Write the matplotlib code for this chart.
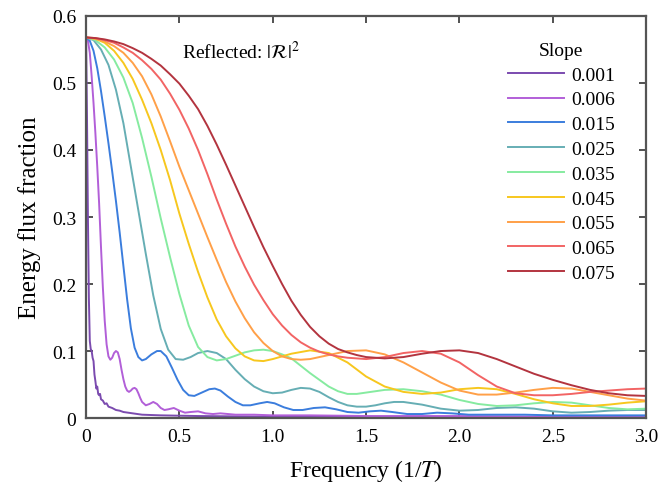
import matplotlib
matplotlib.use("Agg")
import matplotlib.pyplot as plt

plt.rcParams['font.family'] = ['Liberation Serif', 'DejaVu Serif']
plt.rcParams['mathtext.fontset'] = 'stix'

# slope values (legend)
slopes = ['0.001', '0.006', '0.015', '0.025', '0.035', '0.045', '0.055', '0.065', '0.075']
colors = ['#7B4BAF', '#B25FD8', '#3B7DDD', '#66AEB4', '#86EBA0',
          '#F7C71E', '#FFA048', '#F26464', '#B3343F']

# frequency / reflected fraction
f_001 = [0, 0.005, 0.01, 0.015, 0.02, 0.025, 0.03, 0.035, 0.04, 0.045, 0.05, 0.055, 0.06,
         0.065, 0.07, 0.075, 0.08, 0.09, 0.1, 0.11, 0.12, 0.14, 0.16, 0.18, 0.2, 0.25,
         0.3, 0.4, 0.6, 1.0, 2.0, 3.0]
r_001 = [0.568, 0.45, 0.30, 0.18, 0.115, 0.103, 0.100, 0.090, 0.085, 0.065, 0.055, 0.044, 0.047,
         0.036, 0.034, 0.036, 0.028, 0.026, 0.021, 0.022, 0.017, 0.015, 0.012, 0.011, 0.009, 0.007,
         0.005, 0.004, 0.003, 0.002, 0.001, 0.001]

f_006 = [0, 0.01, 0.02, 0.03, 0.04, 0.05, 0.06, 0.07, 0.08, 0.09, 0.1, 0.11, 0.12, 0.13,
         0.14, 0.15, 0.16, 0.17, 0.18, 0.19, 0.2, 0.21, 0.22, 0.23, 0.24, 0.25, 0.26, 0.27,
         0.28, 0.29, 0.30, 0.32, 0.34, 0.36, 0.38, 0.40, 0.42, 0.44, 0.47, 0.50, 0.53, 0.56,
         0.6, 0.64, 0.68, 0.72, 0.76, 0.8, 0.9, 1.0, 1.2, 1.5, 2.0, 2.5, 3.0]
r_006 = [0.568, 0.563, 0.545, 0.51, 0.47, 0.425, 0.375, 0.32, 0.255, 0.195, 0.145, 0.11, 0.092, 0.087,
         0.09, 0.097, 0.1, 0.098, 0.088, 0.072, 0.058, 0.047, 0.041, 0.039, 0.041, 0.044, 0.045, 0.043,
         0.037, 0.03, 0.024, 0.019, 0.021, 0.024, 0.021, 0.015, 0.012, 0.013, 0.015, 0.011, 0.008, 0.009,
         0.01, 0.007, 0.006, 0.007, 0.006, 0.005, 0.005, 0.004, 0.004, 0.003, 0.003, 0.002, 0.002]

f_015 = [0, 0.02, 0.04, 0.06, 0.08, 0.10, 0.12, 0.14, 0.16, 0.18, 0.20, 0.22, 0.24, 0.26,
         0.28, 0.30, 0.32, 0.35, 0.38, 0.40, 0.43, 0.46, 0.49, 0.52, 0.55, 0.58, 0.62, 0.66,
         0.69, 0.72, 0.76, 0.80, 0.84, 0.88, 0.93, 0.97, 1.01, 1.06, 1.11, 1.16, 1.22, 1.28,
         1.34, 1.40, 1.46, 1.52, 1.58, 1.64, 1.72, 1.80, 1.88, 1.96, 2.05, 2.2, 2.35, 2.5,
         2.7, 3.0]
r_015 = [0.568, 0.563, 0.548, 0.522, 0.488, 0.45, 0.41, 0.368, 0.324, 0.277, 0.227, 0.177, 0.134, 0.105,
         0.091, 0.086, 0.088, 0.095, 0.1, 0.1, 0.092, 0.075, 0.057, 0.042, 0.034, 0.033, 0.038, 0.043,
         0.044, 0.041, 0.032, 0.024, 0.019, 0.019, 0.022, 0.024, 0.022, 0.016, 0.012, 0.012, 0.015, 0.016,
         0.013, 0.009, 0.008, 0.01, 0.011, 0.009, 0.006, 0.006, 0.008, 0.007, 0.005, 0.005, 0.005, 0.004,
         0.004, 0.004]

f_025 = [0, 0.04, 0.08, 0.12, 0.16, 0.2, 0.24, 0.28, 0.32, 0.36, 0.4, 0.44, 0.48, 0.52, 0.56,
         0.6, 0.65, 0.7, 0.75, 0.8, 0.85, 0.9, 0.95, 1.0, 1.05, 1.1, 1.15, 1.2, 1.25, 1.3, 1.35,
         1.4, 1.45, 1.5, 1.55, 1.6, 1.65, 1.7, 1.8, 1.9, 2.0, 2.1, 2.2, 2.3, 2.4, 2.5, 2.6, 2.7,
         2.8, 2.9, 3.0]
r_025 = [0.568, 0.564, 0.55, 0.527, 0.49, 0.44, 0.375, 0.31, 0.245, 0.183, 0.133, 0.102, 0.088, 0.087, 0.091,
         0.097, 0.1, 0.097, 0.088, 0.072, 0.058, 0.047, 0.04, 0.037, 0.038, 0.042, 0.045, 0.044, 0.039, 0.031, 0.024,
         0.019, 0.017, 0.017, 0.019, 0.022, 0.024, 0.024, 0.02, 0.014, 0.011, 0.012, 0.015, 0.016, 0.014, 0.01, 0.008, 0.009,
         0.011, 0.012, 0.012]

f_035 = [0, 0.05, 0.1, 0.15, 0.2, 0.25, 0.3, 0.35, 0.4, 0.45, 0.5, 0.55, 0.6, 0.65, 0.7, 0.75,
         0.8, 0.85, 0.9, 0.95, 1.0, 1.05, 1.1, 1.15, 1.2, 1.25, 1.3, 1.35, 1.4, 1.45, 1.5, 1.6,
         1.7, 1.8, 1.9, 2.0, 2.1, 2.2, 2.3, 2.4, 2.5, 2.6, 2.7, 2.8, 2.9, 3.0]
r_035 = [0.568, 0.564, 0.553, 0.535, 0.508, 0.47, 0.418, 0.36, 0.298, 0.24, 0.185, 0.138, 0.106, 0.091, 0.086, 0.088,
         0.093, 0.098, 0.101, 0.102, 0.1, 0.095, 0.089, 0.078, 0.067, 0.057, 0.047, 0.04, 0.036, 0.036, 0.038, 0.042,
         0.043, 0.04, 0.035, 0.027, 0.021, 0.018, 0.019, 0.022, 0.024, 0.023, 0.019, 0.015, 0.013, 0.014]

f_045 = [0, 0.05, 0.1, 0.15, 0.2, 0.25, 0.3, 0.35, 0.4, 0.45, 0.5, 0.55, 0.6, 0.65, 0.7, 0.75,
         0.8, 0.85, 0.9, 0.95, 1.0, 1.1, 1.2, 1.3, 1.4, 1.5, 1.6, 1.7, 1.8, 1.9, 2.0, 2.1, 2.2,
         2.3, 2.4, 2.5, 2.6, 2.7, 2.8, 2.9, 3.0]
r_045 = [0.568, 0.566, 0.56, 0.548, 0.53, 0.506, 0.475, 0.44, 0.40, 0.355, 0.305, 0.26, 0.218, 0.18, 0.147, 0.122,
         0.104, 0.092, 0.086, 0.085, 0.088, 0.096, 0.101, 0.097, 0.083, 0.062, 0.047, 0.039, 0.036, 0.038, 0.043, 0.045, 0.043,
         0.036, 0.028, 0.022, 0.018, 0.018, 0.020, 0.023, 0.025]

f_055 = [0, 0.05, 0.1, 0.15, 0.2, 0.25, 0.3, 0.35, 0.4, 0.45, 0.5, 0.55, 0.6, 0.65, 0.7, 0.75,
         0.8, 0.85, 0.9, 0.95, 1.0, 1.05, 1.1, 1.15, 1.2, 1.3, 1.4, 1.5, 1.6, 1.7, 1.8, 1.9,
         2.0, 2.1, 2.2, 2.3, 2.4, 2.5, 2.6, 2.7, 2.8, 2.9, 3.0]
r_055 = [0.568, 0.566, 0.562, 0.555, 0.545, 0.53, 0.51, 0.483, 0.45, 0.413, 0.375, 0.34, 0.305, 0.27, 0.236, 0.203,
         0.174, 0.149, 0.128, 0.112, 0.1, 0.092, 0.088, 0.087, 0.088, 0.094, 0.1, 0.101, 0.095, 0.083, 0.068, 0.053,
         0.041, 0.035, 0.035, 0.038, 0.042, 0.045, 0.044, 0.039, 0.034, 0.029, 0.026]

f_065 = [0, 0.05, 0.1, 0.15, 0.2, 0.25, 0.3, 0.35, 0.4, 0.45, 0.5, 0.55, 0.6, 0.65, 0.7, 0.75,
         0.8, 0.85, 0.9, 0.95, 1.0, 1.05, 1.1, 1.15, 1.2, 1.25, 1.3, 1.35, 1.4, 1.5, 1.6, 1.7,
         1.8, 1.9, 2.0, 2.1, 2.2, 2.3, 2.4, 2.5, 2.6, 2.7, 2.8, 2.9, 3.0]
r_065 = [0.568, 0.567, 0.564, 0.56, 0.553, 0.545, 0.534, 0.521, 0.505, 0.484, 0.46, 0.432, 0.40, 0.364, 0.326, 0.29,
         0.256, 0.226, 0.199, 0.176, 0.155, 0.138, 0.124, 0.113, 0.105, 0.099, 0.095, 0.092, 0.09, 0.088, 0.091, 0.097,
         0.1, 0.096, 0.083, 0.064, 0.047, 0.037, 0.034, 0.034, 0.036, 0.039, 0.041, 0.043, 0.044]

f_075 = [0, 0.05, 0.1, 0.15, 0.2, 0.25, 0.3, 0.35, 0.4, 0.45, 0.5, 0.55, 0.6, 0.65, 0.7, 0.75,
         0.8, 0.85, 0.9, 0.95, 1.0, 1.05, 1.1, 1.15, 1.2, 1.25, 1.3, 1.35, 1.4, 1.45, 1.5, 1.6,
         1.7, 1.8, 1.9, 2.0, 2.1, 2.2, 2.3, 2.4, 2.5, 2.6, 2.7, 2.8, 2.9, 3.0]
r_075 = [0.568, 0.567, 0.565, 0.562, 0.558, 0.552, 0.545, 0.536, 0.526, 0.513, 0.499, 0.481, 0.461, 0.436, 0.408, 0.378,
         0.347, 0.316, 0.285, 0.255, 0.227, 0.2, 0.175, 0.154, 0.136, 0.122, 0.111, 0.103, 0.098, 0.094, 0.091, 0.089,
         0.091, 0.096, 0.100, 0.101, 0.097, 0.088, 0.077, 0.066, 0.057, 0.049, 0.042, 0.037, 0.034, 0.033]

freqs = [f_001, f_006, f_015, f_025, f_035, f_045, f_055, f_065, f_075]
refl = [r_001, r_006, r_015, r_025, r_035, r_045, r_055, r_065, r_075]

fig = plt.figure(figsize=(6.62, 4.85), dpi=100)
ax = fig.add_axes([0.130, 0.136, 0.846, 0.829])

for f, r, c, s in zip(freqs, refl, colors, slopes):
    ax.plot(f, r, color=c, lw=1.4, label=s)

ax.set_xlim(0, 3.0)
ax.set_ylim(0, 0.6)
ax.set_xticks([0, 0.5, 1.0, 1.5, 2.0, 2.5, 3.0])
ax.set_xticklabels(['0', '0.5', '1.0', '1.5', '2.0', '2.5', '3.0'])
ax.set_yticks([0, 0.1, 0.2, 0.3, 0.4, 0.5, 0.6])
ax.set_yticklabels(['0', '0.1', '0.2', '0.3', '0.4', '0.5', '0.6'])
ax.tick_params(direction='in', length=5, width=1.2, top=True, right=True,
               labelsize=14, pad=7, color='#333333')
for sp in ax.spines.values():
    sp.set_color('#555555')
    sp.set_linewidth(1.6)

ax.set_xlabel('Frequency (1/$T$)', fontsize=17, labelpad=9)
ax.set_ylabel('Energy flux fraction', fontsize=18, labelpad=8)

ax.text(0.172, 0.915, r'Reflected: $|\mathcal{R}|^2$', transform=ax.transAxes,
        fontsize=14, va='center')

leg = ax.legend(title='Slope', loc='upper right', bbox_to_anchor=(0.965, 0.965),
                frameon=False, fontsize=14, title_fontsize=14, handlelength=2.9,
                handletextpad=0.35, labelspacing=0.37, borderaxespad=0.2)

fig.savefig('out.png', dpi=100)
